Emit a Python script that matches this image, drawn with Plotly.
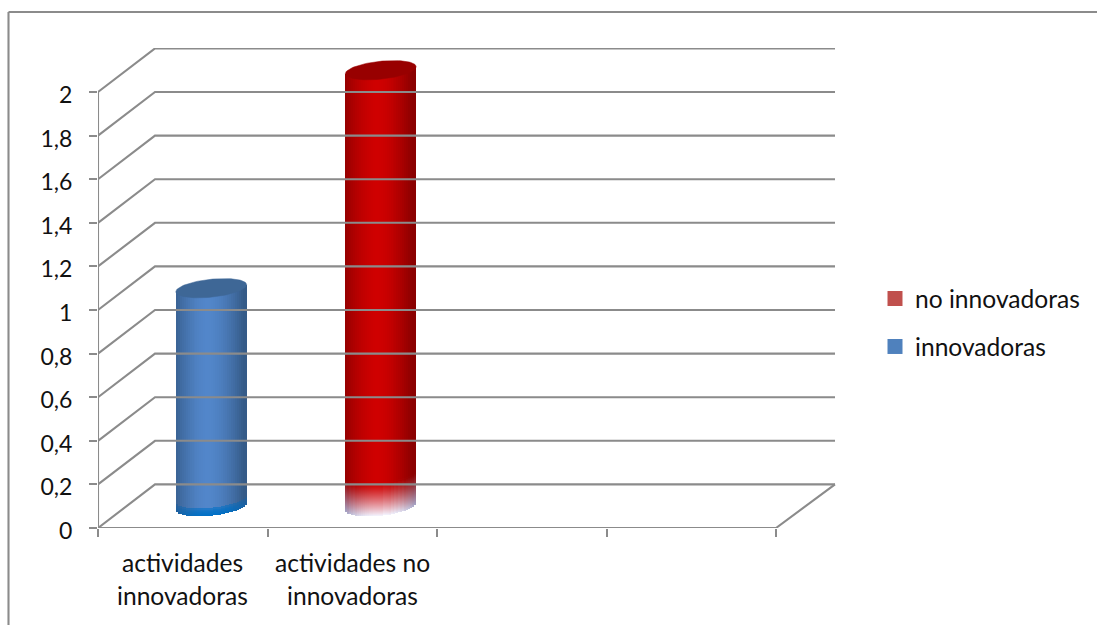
import math
import plotly.graph_objects as go

# ---------- data ----------
categories_line1 = ["actividades", "actividades no"]
categories_line2 = ["innovadoras", "innovadoras"]
innovadoras = [1, None]
no_innovadoras = [None, 2]
y_ticks = [0, 0.2, 0.4, 0.6, 0.8, 1, 1.2, 1.4, 1.6, 1.8, 2]
y_labels = ["0", "0,2", "0,4", "0,6", "0,8", "1", "1,2", "1,4", "1,6", "1,8", "2"]
x_ticks = [0, 1, 2, 3, 4]

# ---------- layout geometry ----------
W, H = 1097, 625
LEFT, RIGHT, TOP, BOTTOM = 98, 838, 48, 528
PX_X = 169.5      # px per category
PX_Y = 218.0      # px per y unit
DEPTH_X = 57 / PX_X
DEPTH_Y = 0.2
BACK_SCALE = 680 / 678
HALF_W = 35.4 / PX_X
ELL_B = 9 / PX_Y
TILT = 3.5 / PX_Y
GRID = "#8b8b8b"
FONT = "Lato"
FS = 24.6
FS_TICK = 23
INK = "#111111"


def hex_rgb(c):
    return [int(c[i:i + 2], 16) for i in (1, 3, 5)]


def mix_hex(a, b, f):
    ca, cb = hex_rgb(a), hex_rgb(b)
    return "#%02x%02x%02x" % tuple(round(x + (y - x) * f) for x, y in zip(ca, cb))


fig = go.Figure()

# ---------- walls and floor, derived from the tick values ----------
back_end = DEPTH_X + x_ticks[-1] * BACK_SCALE
wx, wy = [], []
for v in y_ticks:                       # side + back wall gridlines
    wx += [0, DEPTH_X, back_end, None]
    wy += [v, v + DEPTH_Y, v + DEPTH_Y, None]
wx += [0, 0, None, 0, x_ticks[-1], back_end]   # value axis, category axis, floor edge
wy += [0, y_ticks[-1], None, 0, 0, DEPTH_Y]
fig.add_trace(go.Scatter(x=wx, y=wy, mode="lines", line=dict(color=GRID, width=2.1),
                         hoverinfo="skip", showlegend=False))


# ---------- cylinders ----------
def cylinder(idx, value, name, centre, edge, cap, tint, tint_px, power, edge_tint):
    cx = idx + 0.5 + DEPTH_X / 2
    n = 36
    w = 2 * HALF_W / n
    xs, bases, heights, colors = [], [], [], []
    top_c = value + DEPTH_Y / 2
    bot_c = DEPTH_Y / 2
    row_px = 1
    rows = int(tint_px / row_px)
    for i in range(n):
        t = -1 + (i + 0.5) * 2 / n
        root = math.sqrt(max(0, 1 - t * t))
        x = cx + t * HALF_W
        low = bot_c + TILT * t - ELL_B * root
        upper = top_c + TILT * t
        shade = abs(t + 0.1) ** 1.7
        base_col = mix_hex(centre, edge, min(1, shade))
        xs.append(x); bases.append(low + rows * row_px / PX_Y)
        heights.append(upper - low - rows * row_px / PX_Y); colors.append(base_col)
        for r in range(rows):
            f = (1 - (r + 0.5) / rows) ** power
            tc = mix_hex(tint, edge_tint, min(1, abs(t) ** 2.5))
            xs.append(x); bases.append(low + r * row_px / PX_Y)
            heights.append(row_px / PX_Y * 1.1); colors.append(mix_hex(base_col, tc, f))
    fig.add_trace(go.Bar(x=xs, y=heights, base=bases, width=w * 1.03,
                         marker=dict(color=colors, line=dict(width=0)),
                         hoverinfo="skip", showlegend=False, name=name))
    # top cap as tilted ellipse
    ex, ey = [], []
    for k in range(91):
        a = 2 * math.pi * k / 90
        ex.append(cx + HALF_W * math.cos(a))
        ey.append(top_c + TILT * math.cos(a) + ELL_B * math.sin(a))
    fig.add_trace(go.Scatter(x=ex, y=ey, mode="lines", fill="toself", fillcolor=cap,
                             line=dict(color=cap, width=0.5), hoverinfo="skip", showlegend=False))


for i, v in enumerate(innovadoras):
    if v is not None:
        cylinder(i, v, "innovadoras", "#5286ca", "#355b88", "#3e6796",
                 "#0070c6", 7, 0.2, "#1f5f9c")
for i, v in enumerate(no_innovadoras):
    if v is not None:
        cylinder(i, v, "no innovadoras", "#cf0000", "#8a0000", "#980000",
                 "#f4f4ff", 32, 1.15, "#a0a0c4")

# ---------- legend ----------
for nm, col in [("no innovadoras", "#c0504d"), ("innovadoras", "#4f81bd")]:
    fig.add_trace(go.Scatter(x=[None], y=[None], mode="markers", name=nm, legendgroup=nm,
                             marker=dict(symbol="square", size=15, color=col)))

# ---------- category labels (two-line spacing of the original) ----------
fx = lambda p: (p - LEFT) / (RIGHT - LEFT)
fy = lambda p: (BOTTOM - p) / (BOTTOM - TOP)
for i, (a, b) in enumerate(zip(categories_line1, categories_line2)):
    for txt, py in ((a, 562), (b, 595)):
        fig.add_annotation(x=i + 0.5, xref="x", y=fy(py), yref="paper",
                           text=txt, showarrow=False, xanchor="center", yanchor="middle",
                           font=dict(family=FONT, size=FS, color=INK))

# ---------- outer frame ----------
fig.add_shape(type="line", xref="paper", yref="paper", x0=fx(8.5), x1=fx(8.5), y0=fy(H), y1=fy(12),
              line=dict(color=GRID, width=2.1))
fig.add_shape(type="line", xref="paper", yref="paper", x0=fx(8.5), x1=fx(W), y0=fy(12), y1=fy(12),
              line=dict(color=GRID, width=2.1))

fig.update_layout(
    width=W, height=H,
    margin=dict(l=LEFT, r=W - RIGHT, t=TOP, b=H - BOTTOM, autoexpand=False),
    paper_bgcolor="white", plot_bgcolor="white",
    barmode="overlay", bargap=0,
    font=dict(family=FONT, size=FS, color=INK),
    xaxis=dict(range=[0, (RIGHT - LEFT) / PX_X], tickmode="array", tickvals=x_ticks, ticktext=[""] * 5,
               ticks="outside", ticklen=8, tickwidth=1.6, tickcolor=GRID, showgrid=False,
               zeroline=False, showline=False, fixedrange=True),
    yaxis=dict(range=[0, (BOTTOM - TOP) / PX_Y], tickmode="array", tickvals=y_ticks, ticktext=y_labels,
               tickfont=dict(family=FONT, size=FS_TICK, color=INK),
               ticklabelstandoff=12, ticklabelshift=3,
               ticks="outside", ticklen=8, tickwidth=1.6, tickcolor=GRID, showgrid=False,
               zeroline=False, showline=False, fixedrange=True),
    legend=dict(x=fx(875), y=fy(276), xanchor="left", yanchor="top", bgcolor="rgba(0,0,0,0)",
                font=dict(family=FONT, size=FS, color=INK),
                traceorder="grouped", tracegroupgap=13, itemclick=False, itemdoubleclick=False),
    showlegend=True,
)

fig.write_html("out.html", config={"displayModeBar": False},
               post_script="document.body.style.margin='0';")
